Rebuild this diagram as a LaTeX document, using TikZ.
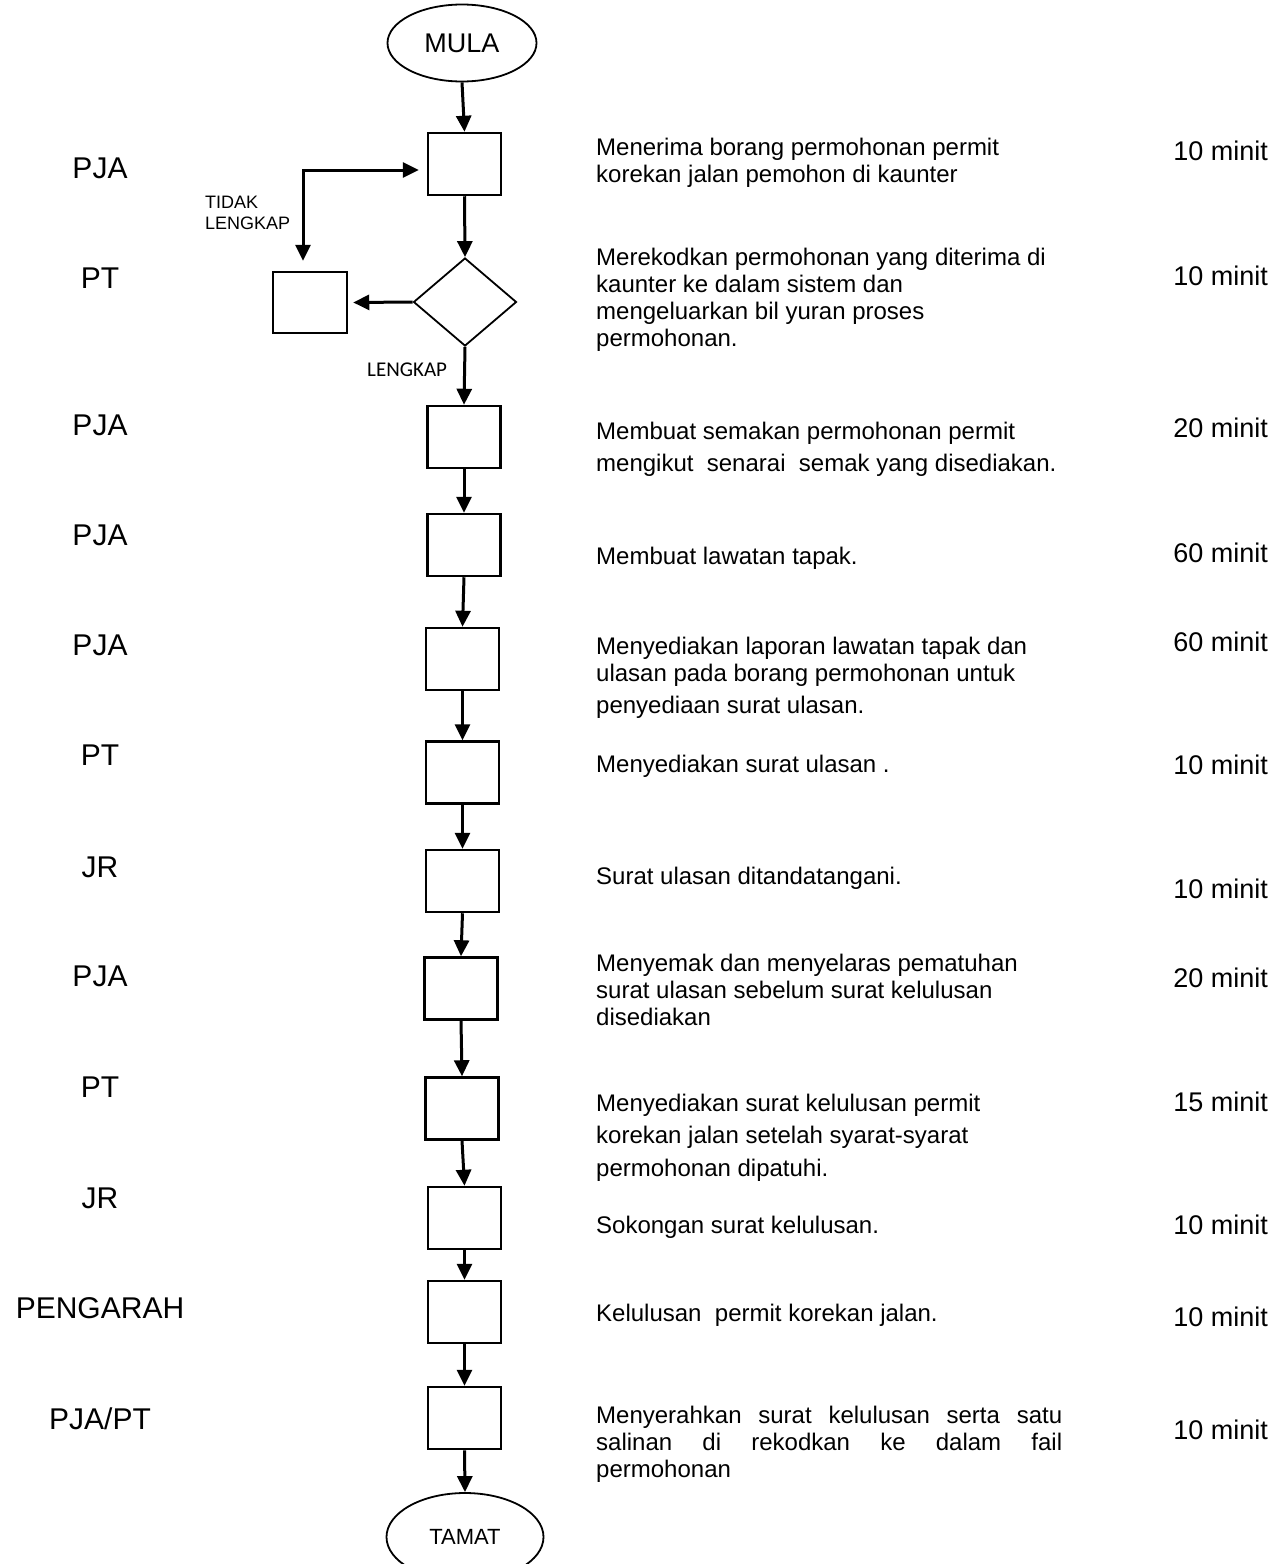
\documentclass[tikz,border=0pt]{standalone}
\usepackage{fontspec}
\setmainfont{Liberation Sans}
\newfontfamily\calfont{Carlito}
\usetikzlibrary{shapes.geometric,arrows.meta}
% strut that fixes the top of the first line of a description
\newcommand\fl{\rule{0pt}{18pt}}
\begin{document}
\begin{tikzpicture}[x=1pt,y=-1pt,
  stepbox/.style={draw,line width=2.5pt,minimum width=73pt,minimum height=62pt,inner sep=0pt},
  termin/.style={draw,ellipse,line width=1.8pt,inner sep=0pt},
  decis/.style={draw,diamond,line width=1.8pt,minimum width=103pt,minimum height=88pt,inner sep=0pt},
  tipA/.tip={Triangle[length=16pt,width=15pt]},
  arr/.style={line width=3pt,-tipA},
  role/.style={anchor=base,inner sep=0pt,font=\fontsize{30}{36}\selectfont},
  dur/.style={anchor=base east,inner sep=0pt,font=\fontsize{27}{32}\selectfont},
  desc/.style={anchor=north west,inner sep=0pt,align=left,font=\fontsize{24}{27}\selectfont},
]
\useasboundingbox (0,0) rectangle (1282,1564);
\clip (0,0) rectangle (1282,1564);

% terminals, decision and process boxes
\node[termin,minimum width=149pt,minimum height=77pt,font=\fontsize{27}{31}\selectfont] (mula) at (462,43) {MULA};
\node[stepbox] (b1) at (464.5,164) {};
\node[decis] (d) at (465,302) {};
\node[stepbox,minimum width=74pt,minimum height=61pt] (bl) at (310,302.5) {};
\node[stepbox] (b3) at (464,437) {};
\node[stepbox] (b4) at (464,545) {};
\node[stepbox] (b5) at (462.5,659) {};
\node[stepbox] (b6) at (462.5,772.5) {};
\node[stepbox] (b7) at (462.5,881) {};
\node[stepbox] (b8) at (461,988.5) {};
\node[stepbox] (b9) at (462,1108.5) {};
\node[stepbox] (b10) at (464.5,1218) {};
\node[stepbox] (b11) at (464.5,1312) {};
\node[stepbox] (b12) at (464.5,1418) {};
\node[termin,minimum width=157pt,minimum height=88pt,font=\fontsize{22}{26}\selectfont] (tamat) at (465,1537) {TAMAT};

% connectors
\draw[arr] (mula.south) -- (b1.north);
\draw[arr] (b1.south) -- (d.north);
\draw[arr] (d.west) -- ([xshift=5pt]bl.east);
\draw[line width=3pt,tipA-tipA] ([xshift=-7pt,yshift=10pt]bl.north) |- ([xshift=-8pt,yshift=-6pt]b1.west);
\draw[arr] (d.south) -- (b3.north);
\draw[arr] (b3.south) -- (b4.north);
\draw[arr] (b4.south) -- (b5.north);
\draw[arr] (b5.south) -- (b6.north);
\draw[arr] (b6.south) -- (b7.north);
\draw[arr] (b7.south) -- (b8.north);
\draw[arr] (b8.south) -- (b9.north);
\draw[arr] (b9.south) -- (b10.north);
\draw[arr] (b10.south) -- (b11.north);
\draw[arr] (b11.south) -- (b12.north);
\draw[arr] (b12.south) -- (tamat.north);

% decision labels
\node[anchor=north west,inner sep=0pt,align=left,font=\fontsize{18}{21}\selectfont] (tidak) at (205,195) {\rule{0pt}{13pt}TIDAK\\LENGKAP};
\node[anchor=base west,inner sep=0pt,font=\calfont\fontsize{21}{25}\selectfont] (lengkap) at (367,376) {LENGKAP};

% responsible officers
\node[role] (r1) at (100,178) {PJA};
\node[role] (r2) at (100,288) {PT};
\node[role] (r3) at (100,435) {PJA};
\node[role] (r4) at (100,545) {PJA};
\node[role] (r5) at (100,655) {PJA};
\node[role] (r6) at (100,765) {PT};
\node[role] (r7) at (100,877) {JR};
\node[role] (r8) at (100,986) {PJA};
\node[role] (r9) at (100,1097) {PT};
\node[role] (r10) at (100,1208) {JR};
\node[role] (r11) at (100,1318) {PENGARAH};
\node[role] (r12) at (100,1429) {PJA/PT};

% activity descriptions
\node[desc] (t1) at (596,137) {\fl Menerima borang permohonan permit\\korekan jalan pemohon di kaunter};
\node[desc] (t2) at (596,247) {\fl Merekodkan permohonan yang diterima di\\kaunter ke dalam sistem dan\\mengeluarkan bil yuran proses\\permohonan.};
\node[desc] (t3) at (596,421) {\fl Membuat semakan permohonan permit\\[5pt]mengikut\ \ senarai\ \ semak yang disediakan.};
\node[desc] (t4) at (596,546) {\fl Membuat lawatan tapak.};
\node[desc] (t5) at (596,636) {\fl Menyediakan laporan lawatan tapak dan\\ulasan pada borang permohonan untuk\\[5pt]penyediaan surat ulasan.};
\node[desc] (t6) at (596,754) {\fl Menyediakan surat ulasan .};
\node[desc] (t7) at (596,866) {\fl Surat ulasan ditandatangani.};
\node[desc] (t8) at (596,953) {\fl Menyemak dan menyelaras pematuhan\\surat ulasan sebelum surat kelulusan\\disediakan};
\node[desc] (t9) at (596,1093) {\fl Menyediakan surat kelulusan permit\\[5pt]korekan jalan setelah syarat-syarat\\[6pt]permohonan dipatuhi.};
\node[desc] (t10) at (596,1215) {\fl Sokongan surat kelulusan.};
\node[desc] (t11) at (596,1303) {\fl Kelulusan\ \ permit korekan jalan.};
\node[desc] (t12) at (596,1405) {\parbox[t]{466pt}{\hyphenpenalty=10000\hbadness=10000\fl Menyerahkan surat kelulusan serta satu\linebreak salinan di rekodkan ke dalam fail\linebreak permohonan}};

% durations
\node[dur] (m1) at (1268,160) {10 minit};
\node[dur] (m2) at (1268,285) {10 minit};
\node[dur] (m3) at (1268,437) {20 minit};
\node[dur] (m4) at (1268,562) {60 minit};
\node[dur] (m5) at (1268,651) {60 minit};
\node[dur] (m6) at (1268,774) {10 minit};
\node[dur] (m7) at (1268,898) {10 minit};
\node[dur] (m8) at (1268,987) {20 minit};
\node[dur] (m9) at (1268,1111) {15 minit};
\node[dur] (m10) at (1268,1234) {10 minit};
\node[dur] (m11) at (1268,1326) {10 minit};
\node[dur] (m12) at (1268,1439) {10 minit};
\end{tikzpicture}
\end{document}
